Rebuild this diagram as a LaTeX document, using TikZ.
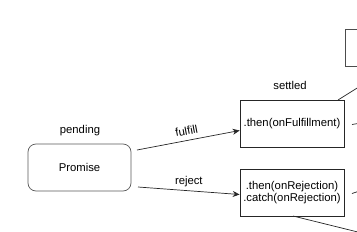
\documentclass[tikz,border=0pt]{standalone}
\usepackage{fontspec}
\setmainfont{Liberation Sans}
\usetikzlibrary{arrows.meta}
\begin{document}
\begin{tikzpicture}[x=1pt,y=-1pt,
  lbl/.style={font=\fontsize{11.3}{13}\selectfont, inner sep=0pt},
  state/.style={draw=black!85, line width=0.7pt, minimum width=104pt, minimum height=47pt, inner sep=0.5pt, font=\fontsize{11.3}{13}\selectfont, align=center},
  conn/.style={line width=0.7pt, draw=black!85},
  arr/.style={conn, -{Stealth[length=7pt,width=6pt]}}]
\useasboundingbox (0,0) rectangle (357,231);
\clip (0,0) rectangle (357,231);
\node[state, draw=black!65, rounded corners=8pt, minimum width=103pt] (p) at (79.5,167.5) {Promise};
\node[lbl] (pend) at (80,131) {pending};
\node[state] (b1) at (292,123.5) {.then(onFulfillment)};
\node[state] (b2) at (292,192.5) {.then(onRejection)\\[-1pt].catch(onRejection)};
\node[lbl] (set) at (290,85) {settled};
\node[state, draw=black!70, minimum width=40pt, minimum height=37pt] (top) at (365,47.5) {};
\coordinate (s1) at (137,150);
\coordinate (s2) at (138,187);
\draw[arr] (s1) -- (b1.west |- 0,130.5) node[lbl, midway, above=5pt, sloped] (ful) {fulfill};
\draw[arr] (s2) -- (b2.west |- 0,194.5) node[lbl, midway, above=4pt] (rej) {reject};
\coordinate (u1) at (338,100);
\coordinate (u2) at (362,85);
\draw[conn] (u1) -- (u2);
\coordinate (r1a) at (352,124.5);
\coordinate (r1b) at (358,123.5);
\draw[conn] (r1a) -- (r1b);
\coordinate (r2a) at (352,193.5);
\coordinate (r2b) at (358,191.5);
\draw[conn] (r2a) -- (r2b);
\coordinate (d1) at (293,216);
\coordinate (d2) at (370,235);
\draw[conn] (d1) -- (d2);
\end{tikzpicture}
\end{document}
